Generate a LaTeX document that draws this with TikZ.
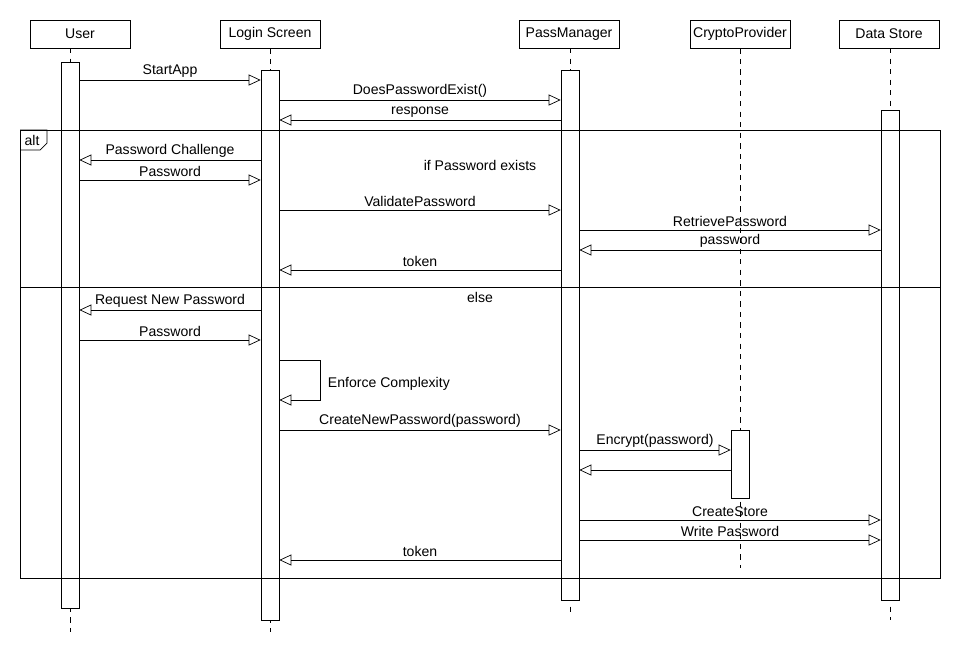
\documentclass[tikz,border=0pt]{standalone}
\usepackage{fontspec}
\setmainfont{Liberation Sans}
\usetikzlibrary{calc}
\usetikzlibrary{positioning}
\usetikzlibrary{arrows.meta}

\begin{document}
\begin{tikzpicture}[
    x=0.02cm, y=-0.02cm,
    every node/.style={font=\fontsize{8}{10}\selectfont},
    headbox/.style={draw, fill=white, minimum width=2cm, minimum height=0.56cm, inner sep=0pt},
    actbar/.style={draw, fill=white, minimum width=0.36cm, inner sep=0pt},
    lifeline/.style={dashed, thin},
    msg/.style={-{Triangle[open, length=0.24cm, width=0.22cm]}, thin},
    msglabel/.style={above=0.5pt, inner sep=1pt},
]
    \useasboundingbox (0,0) rectangle (960,670);

    % Participants
    \node[headbox] (user) at (80,34) {User};
    \node[headbox] (login) at (270,34) {Login Screen};
    \node[headbox] (pass) at (569,34) {PassManager};
    \node[headbox] (crypto) at (740,34) {CryptoProvider};
    \node[headbox] (store) at (889,34) {Data Store};

    % Lifelines
    \draw [lifeline] (70,48) -- (70,632);
    \draw [lifeline] (login.south) -- (270,632);
    \draw [lifeline] (570,48) -- (570,615);
    \draw [lifeline] (crypto.south) -- (740,568);
    \draw [lifeline] (890,48) -- (890,620);

    % Activations
    \node[actbar, minimum height=10.92cm] (userA) at (70,335) {};
    \node[actbar, minimum height=11cm] (loginA) at (270,345) {};
    \node[actbar, minimum height=10.6cm] (passA) at (570,335) {};
    \node[actbar, minimum height=1.36cm] (cryptoA) at (740,464) {};
    \node[actbar, minimum height=9.8cm] (storeA) at (890,355) {};

    % Alt frame
    \draw (20,130) rectangle (940,578);
    \draw (20,287) -- (940,287);
    \draw (20,130) -- (47,130) -- (47,143) -- (40,150) -- (20,150);
    \node (alt_tag) at (32,140) {alt};
    \node (cond_if) at (480,165) {if Password exists};
    \node (cond_else) at (480,297) {else};

    % Start
    \draw [msg] (userA.east |- 0,80) -- node[msglabel]{StartApp} (loginA.west |- 0,80);
    \draw [msg] (loginA.east |- 0,100) -- node[msglabel]{DoesPasswordExist()} (passA.west |- 0,100);
    \draw [msg] (passA.west |- 0,120) -- node[msglabel]{response} (loginA.east |- 0,120);

    % Password exists
    \draw [msg] (loginA.west |- 0,160) -- node[msglabel]{Password Challenge} (userA.east |- 0,160);
    \draw [msg] (userA.east |- 0,180) -- node[msglabel]{Password} (loginA.west |- 0,180);
    \draw [msg] (loginA.east |- 0,210) -- node[msglabel]{ValidatePassword} (passA.west |- 0,210);
    \draw [msg] (passA.east |- 0,230) -- node[msglabel]{RetrievePassword} (storeA.west |- 0,230);
    \draw [msg] (storeA.west |- 0,250) -- node[msglabel]{password} (passA.east |- 0,250);
    \draw [msg] (passA.west |- 0,270) -- node[msglabel]{token} (loginA.east |- 0,270);

    % New password
    \draw [msg] (loginA.west |- 0,310) -- node[msglabel]{Request New Password} (userA.east |- 0,310);
    \draw [msg] (userA.east |- 0,340) -- node[msglabel]{Password} (loginA.west |- 0,340);
    \draw [msg] (loginA.east |- 0,360) -- (320,360) -- (320,400)
        node[pos=0.6, right=1pt]{Enforce Complexity} -- (loginA.east |- 0,400);
    \draw [msg] (loginA.east |- 0,430) -- node[msglabel]{CreateNewPassword(password)} (passA.west |- 0,430);
    \draw [msg] (passA.east |- 0,450) -- node[msglabel]{Encrypt(password)} (cryptoA.west |- 0,450);
    \draw [msg] (cryptoA.west |- 0,470) -- (passA.east |- 0,470);
    \draw [msg] (passA.east |- 0,520) -- node[msglabel]{CreateStore} (storeA.west |- 0,520);
    \draw [msg] (passA.east |- 0,540) -- node[msglabel]{Write Password} (storeA.west |- 0,540);
    \draw [msg] (passA.west |- 0,560) -- node[msglabel]{token} (loginA.east |- 0,560);

\end{tikzpicture}
\end{document}
